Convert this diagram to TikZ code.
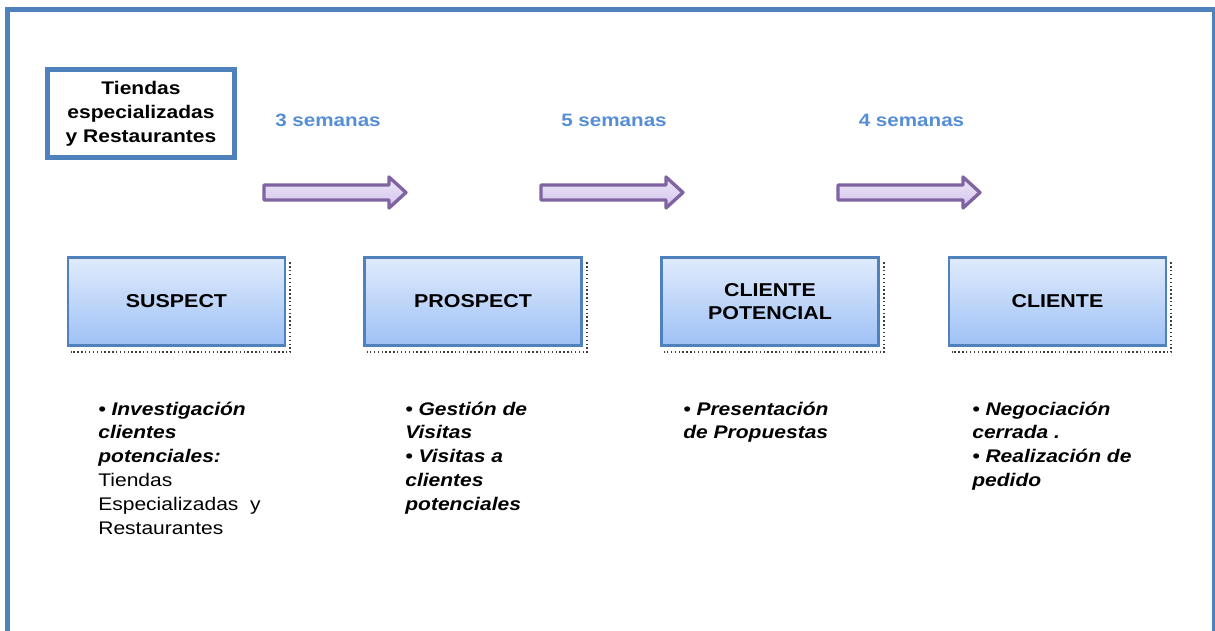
\documentclass[tikz,border=0pt]{standalone}
\usepackage{fontspec}
\setmainfont[FakeStretch=1.15]{Liberation Sans}
\usepackage{tikz}
\definecolor{marco}{RGB}{79,129,189}
\definecolor{semana}{RGB}{85,142,213}
\definecolor{flechaborde}{RGB}{128,100,162}
\definecolor{flechaarriba}{RGB}{236,229,247}
\definecolor{flechaabajo}{RGB}{212,197,237}
\definecolor{cajaarriba}{RGB}{224,235,252}
\definecolor{cajaabajo}{RGB}{158,193,245}
\definecolor{sombra}{RGB}{60,60,60}
\def\ancho{4.34cm}
\def\alto{1.76cm}
\newcommand{\bi}[1]{\textbf{\textit{#1}}}
\newcommand{\etapa}[3]{\node[minimum width=\ancho,minimum height=\alto,draw=marco,line width=1.5pt,top color=cajaarriba,bottom color=cajaabajo,align=center,font=\fontsize{10.6}{13.2}\selectfont\bfseries] (#2) at (#1,301.5) {#3};
	\draw[sombra,line width=1.2pt,dash pattern=on 0.8pt off 1.4pt] ([xshift=2.2pt,yshift=-3.5pt]#2.north east) -- ([xshift=2.2pt,yshift=-3.2pt]#2.south east) -- ([xshift=2.2pt,yshift=-3.2pt]#2.south west); }
\newcommand{\flecha}[2]{\draw[flechaborde,line width=1.9pt,line join=round,top color=flechaarriba,bottom color=flechaabajo] (#1,185) -- ++(125,0) -- ++(0,-8) -- ++(17,15.5) -- ++(-17,15.5) -- ++(0,-8) -- ++(-125,0) -- cycle; }

\begin{document}
\begin{tikzpicture}[x=0.02cm,y=-0.02cm,
	lista/.style={anchor=north west,align=left,inner sep=0pt,font=\fontsize{10.4}{13.6}\selectfont},
	semanas/.style={text=semana,font=\fontsize{10.2}{13.6}\selectfont\bfseries}]
\useasboundingbox (0,0) rectangle (1215,631);
\draw[marco,line width=2.8pt] (7.5,9.5) rectangle (1214,633);

\node[draw=marco,line width=2.8pt,minimum width=3.74cm,minimum height=1.76cm,align=center,font=\fontsize{10.4}{13.6}\selectfont\bfseries] (segmento) at (141,113.5) {Tiendas\\especializadas\\y Restaurantes};

\node[semanas] (sem3) at (328,120) {3 semanas};
\node[semanas] (sem5) at (614,120) {5 semanas};
\node[semanas] (sem4) at (911.5,120) {4 semanas};

\flecha{264}{f1}
\flecha{541}{f2}
\flecha{838}{f3}

\etapa{176.5}{suspect}{SUSPECT}
\etapa{473}{prospect}{PROSPECT}
\etapa{770}{potencial}{CLIENTE\\POTENCIAL}
\etapa{1057.5}{cliente}{CLIENTE}

\node[lista] (tsuspect) at (98,398) {\strut\bi{• Investigación}\\\bi{clientes}\\\bi{potenciales:}\\Tiendas\\Especializadas\ \ y\\Restaurantes};
\node[lista] (tprospect) at (405,398) {\strut\bi{• Gestión de}\\\bi{Visitas}\\\bi{• Visitas a}\\\bi{clientes}\\\bi{potenciales}};
\node[lista] (tpotencial) at (683,398) {\strut\bi{• Presentación}\\\bi{de Propuestas}};
\node[lista] (tcliente) at (972,398) {\strut\bi{• Negociación}\\\bi{cerrada .}\\\bi{• Realización de}\\\bi{pedido}};
\end{tikzpicture}
\end{document}
